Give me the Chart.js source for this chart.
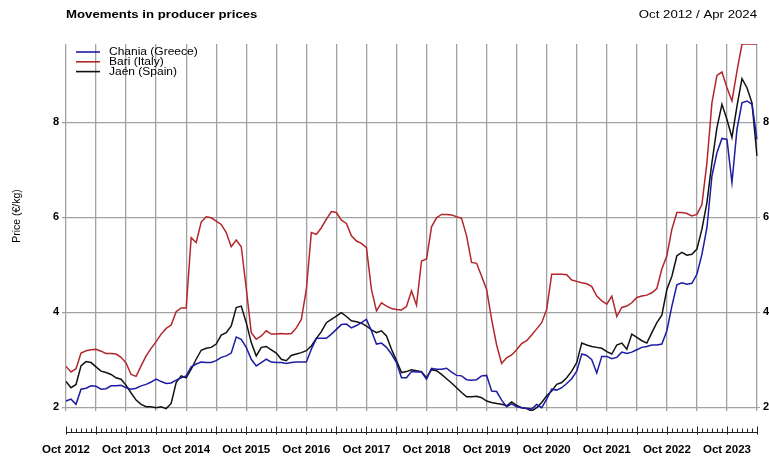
<!DOCTYPE html>
<html>
<head>
<meta charset="utf-8">
<title>Movements in producer prices</title>
<script src="https://cdn.jsdelivr.net/npm/chart.js@4.4.1/dist/chart.umd.min.js"></script>
<style>
    body { margin: 0; background: #fff; }
    #wrap { width: 769px; height: 457px; }
</style>
</head>
<body>
<div id="wrap"><canvas id="myChart" width="769" height="457"></canvas></div>
<script>
// monthly producer prices, Oct 2012 .. Apr 2024 (EUR/kg)
const chania = [
    2.13, 2.17, 2.06, 2.38, 2.40, 2.45, 2.44, 2.38, 2.39, 2.45,
    2.45, 2.46, 2.41, 2.38, 2.40, 2.45, 2.48, 2.53, 2.59, 2.54,
    2.50, 2.51, 2.57, 2.62, 2.66, 2.85, 2.91, 2.95, 2.94, 2.94,
    2.98, 3.05, 3.08, 3.14, 3.48, 3.43, 3.26, 3.01, 2.87, 2.94,
    3.01, 2.95, 2.94, 2.94, 2.92, 2.94, 2.95, 2.95, 2.95, 3.22,
    3.45, 3.45, 3.45, 3.54, 3.64, 3.74, 3.75, 3.67, 3.72, 3.78,
    3.85, 3.61, 3.33, 3.35, 3.26, 3.12, 2.94, 2.62, 2.62, 2.75,
    2.74, 2.74, 2.59, 2.82, 2.80, 2.80, 2.82, 2.74, 2.67, 2.66,
    2.58, 2.57, 2.58, 2.66, 2.67, 2.34, 2.33, 2.15, 2.01, 2.07,
    2.01, 1.99, 1.98, 1.96, 2.06, 1.99, 2.17, 2.38, 2.36, 2.41,
    2.50, 2.60, 2.76, 3.12, 3.09, 3.00, 2.72, 3.07, 3.07, 3.02,
    3.05, 3.16, 3.13, 3.16, 3.21, 3.26, 3.28, 3.31, 3.31, 3.33,
    3.61, 4.13, 4.58, 4.62, 4.59, 4.61, 4.80, 5.22, 5.78, 6.87,
    7.36, 7.66, 7.64, 6.73, 7.85, 8.41, 8.45, 8.38, 7.64
]
const bari = [
    2.86, 2.74, 2.81, 3.14, 3.19, 3.21, 3.22, 3.18, 3.13, 3.13,
    3.12, 3.05, 2.93, 2.69, 2.65, 2.87, 3.08, 3.24, 3.38, 3.54,
    3.66, 3.73, 4.01, 4.09, 4.09, 5.57, 5.47, 5.90, 6.01, 5.99,
    5.92, 5.85, 5.68, 5.38, 5.52, 5.38, 4.50, 3.57, 3.43, 3.50,
    3.61, 3.54, 3.54, 3.55, 3.54, 3.55, 3.67, 3.85, 4.48, 5.68,
    5.64, 5.78, 5.96, 6.12, 6.10, 5.94, 5.87, 5.61, 5.50, 5.45,
    5.36, 4.48, 4.03, 4.20, 4.13, 4.08, 4.06, 4.05, 4.12, 4.45,
    4.15, 5.08, 5.12, 5.80, 5.99, 6.06, 6.06, 6.05, 6.01, 5.98,
    5.61, 5.05, 5.03, 4.76, 4.48, 3.85, 3.31, 2.92, 3.04, 3.10,
    3.21, 3.34, 3.40, 3.52, 3.65, 3.78, 4.06, 4.80, 4.80, 4.80,
    4.79, 4.68, 4.65, 4.62, 4.60, 4.54, 4.34, 4.24, 4.17, 4.34,
    3.91, 4.10, 4.13, 4.20, 4.31, 4.34, 4.36, 4.41, 4.50, 4.91,
    5.19, 5.75, 6.10, 6.10, 6.08, 6.03, 6.06, 6.27, 7.15, 8.41,
    8.99, 9.06, 8.73, 8.45, 9.08, 9.65, 9.65, 9.65, 9.65
]
const jaen = [
    2.54, 2.41, 2.48, 2.87, 2.96, 2.94, 2.85, 2.76, 2.73, 2.69,
    2.62, 2.59, 2.46, 2.30, 2.15, 2.06, 2.01, 2.01, 1.99, 2.01,
    1.97, 2.08, 2.52, 2.66, 2.62, 2.80, 3.01, 3.20, 3.24, 3.26,
    3.33, 3.52, 3.57, 3.71, 4.10, 4.13, 3.78, 3.36, 3.08, 3.26,
    3.28, 3.21, 3.14, 3.01, 2.98, 3.09, 3.12, 3.15, 3.19, 3.29,
    3.45, 3.59, 3.78, 3.85, 3.92, 3.99, 3.91, 3.82, 3.80, 3.77,
    3.71, 3.63, 3.57, 3.61, 3.50, 3.22, 2.98, 2.73, 2.75, 2.79,
    2.77, 2.75, 2.62, 2.79, 2.77, 2.69, 2.60, 2.51, 2.41, 2.31,
    2.22, 2.22, 2.23, 2.20, 2.13, 2.10, 2.08, 2.06, 2.03, 2.11,
    2.04, 1.99, 1.97, 1.92, 1.99, 2.10, 2.24, 2.34, 2.48, 2.52,
    2.62, 2.76, 2.94, 3.35, 3.31, 3.28, 3.26, 3.24, 3.17, 3.12,
    3.31, 3.35, 3.22, 3.54, 3.47, 3.40, 3.35, 3.57, 3.78, 3.94,
    4.48, 4.76, 5.19, 5.26, 5.20, 5.22, 5.33, 5.75, 6.31, 7.15,
    7.89, 8.38, 8.06, 7.68, 8.34, 8.92, 8.73, 8.41, 7.29
]
const xTickLabels = ['Oct 2012', 'Oct 2013', 'Oct 2014', 'Oct 2015', 'Oct 2016', 'Oct 2017',
    'Oct 2018', 'Oct 2019', 'Oct 2020', 'Oct 2021', 'Oct 2022', 'Oct 2023']
const yTicks = [2, 4, 6, 8]

const monthNames = ['Jan', 'Feb', 'Mar', 'Apr', 'May', 'Jun', 'Jul', 'Aug', 'Sep', 'Oct', 'Nov', 'Dec']
const months = []
for (let i = 0; i < chania.length; i++) {
    months.push(monthNames[(9 + i) % 12] + ' ' + (2012 + Math.floor((9 + i) / 12)))
}

const fam = "'Liberation Sans', Arial, sans-serif"
const gridGrey = '#a2a2a2'

// the source picture is a bit wider than tall, so its text is too
function wideText(ctx, text, x, y, align) {
    ctx.save()
    ctx.translate(x, y)
    ctx.scale(1.2, 1)
    ctx.textAlign = align
    ctx.fillText(text, 0, 0)
    ctx.restore()
}

// title, period and y title
const headerText = {
    id: 'headerText',
    afterDraw(chart) {
        const { ctx, chartArea } = chart
        ctx.save()
        ctx.fillStyle = '#000'
        ctx.textBaseline = 'middle'
        ctx.font = 'bold 11px ' + fam
        wideText(ctx, 'Movements in producer prices', chartArea.left, 15, 'left')
        ctx.font = '11px ' + fam
        wideText(ctx, 'Oct 2012 / Apr 2024', chartArea.right, 15, 'right')

        ctx.translate(17, 216)
        ctx.rotate(-Math.PI / 2)
        ctx.textAlign = 'center'
        ctx.font = '10.5px ' + fam
        ctx.fillText('Price (€/kg)', 0, 0)
        ctx.restore()
    }
}

// legend in the top-left corner of the plot
const cornerLegend = {
    id: 'cornerLegend',
    afterDatasetsDraw(chart) {
        const { ctx, chartArea } = chart
        ctx.save()
        ctx.font = '10px ' + fam
        ctx.textBaseline = 'middle'
        chart.data.datasets.forEach((ds, i) => {
            const y = chartArea.top + 8 + i * 9.8
            ctx.strokeStyle = ds.borderColor
            ctx.lineWidth = 1.6
            ctx.beginPath()
            ctx.moveTo(chartArea.left + 10, y)
            ctx.lineTo(chartArea.left + 34, y)
            ctx.stroke()
            ctx.fillStyle = '#000'
            wideText(ctx, ds.label, chartArea.left + 43, y + 0.5, 'left')
        })
        ctx.restore()
    }
}

// month comb under the plot
const monthComb = {
    id: 'monthComb',
    afterDraw(chart) {
        const { ctx, chartArea } = chart
        const x = chart.scales.x
        const base = chartArea.bottom + 21.5
        ctx.save()
        ctx.strokeStyle = '#222'
        ctx.lineWidth = 1
        ctx.beginPath()
        ctx.moveTo(x.left, base)
        ctx.lineTo(x.right, base)
        for (let i = 0; i < months.length; i++) {
            const px = Math.round(x.getPixelForValue(i)) + 0.5
            if (i % 6 === 0) {
                ctx.moveTo(px, base + 2)
                ctx.lineTo(px, base - 6)
            } else {
                ctx.moveTo(px, base)
                ctx.lineTo(px, base - 4)
            }
        }
        ctx.stroke()
        ctx.restore()
    }
}

const data = {
    labels: months,
    datasets: [
        {
            label: 'Chania (Greece)',
            data: chania,
            borderColor: '#1c1ca4',
            borderWidth: 1.5,
            pointRadius: 0,
            tension: 0
        },
        {
            label: 'Bari (Italy)',
            data: bari,
            borderColor: '#b3262a',
            borderWidth: 1.5,
            pointRadius: 0,
            tension: 0
        },
        {
            label: 'Jaén (Spain)',
            data: jaen,
            borderColor: '#111111',
            borderWidth: 1.5,
            pointRadius: 0,
            tension: 0
        }
    ]
}

const config = {
    type: 'line',
    data: data,
    options: {
        responsive: false,
        animation: false,
        layout: { padding: { top: 44, left: 0, right: 0, bottom: 0 } },
        plugins: {
            legend: { display: false },
            tooltip: { enabled: false }
        },
        scales: {
            x: {
                offset: false,
                afterFit: (axis) => {
                    axis.height = 46
                    axis.paddingLeft = 0
                    axis.paddingRight = 0
                },
                border: { display: false },
                grid: {
                    color: (c) => (c.index % 6 === 0 ? gridGrey : 'rgba(0,0,0,0)'),
                    lineWidth: 1.3,
                    drawTicks: false
                },
                ticks: {
                    autoSkip: false,
                    maxRotation: 0,
                    minRotation: 0,
                    padding: 32,
                    color: '#000',
                    font: { size: 11.5, weight: 'bold', family: fam },
                    callback: (val, index) => (index % 12 === 0 ? xTickLabels[index / 12] : '')
                }
            },
            y: {
                position: 'left',
                min: 1.92,
                max: 9.65,
                afterBuildTicks: (axis) => { axis.ticks = yTicks.map(v => ({ value: v })) },
                afterFit: (axis) => { axis.width = 66 },
                border: { display: false },
                grid: { color: gridGrey, lineWidth: 1.3, tickLength: 4, tickColor: gridGrey },
                ticks: { color: '#000', padding: 3, font: { size: 11, weight: 'bold', family: fam } }
            },
            y2: {
                position: 'right',
                min: 1.92,
                max: 9.65,
                afterBuildTicks: (axis) => { axis.ticks = yTicks.map(v => ({ value: v })) },
                afterFit: (axis) => { axis.width = 12 },
                border: { display: false },
                grid: { drawOnChartArea: false, tickLength: 3, color: gridGrey },
                ticks: { color: '#000', padding: 3, font: { size: 11, weight: 'bold', family: fam } }
            }
        }
    },
    plugins: [headerText, cornerLegend, monthComb]
}

const myChart = new Chart(
    document.getElementById('myChart'),
    config
)
</script>
</body>
</html>
